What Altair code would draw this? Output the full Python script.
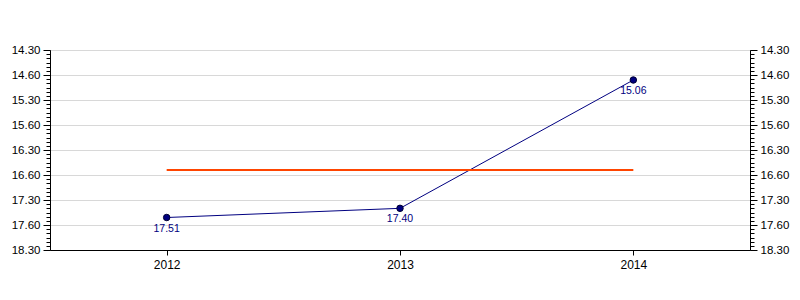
import altair as alt
import pandas as pd

# data
years = ["2012", "2013", "2014"]
minutes = [17, 17, 15]
seconds = [51, 40, 6]
value_labels = ["17.51", "17.40", "15.06"]
target_min, target_sec = 16, 54  # orange reference line

tick_secs = [870, 900, 930, 960, 990, 1020, 1050, 1080, 1110]
tick_labels = ["14.30", "14.60", "15.30", "15.60", "16.30", "16.60", "17.30", "17.60", "18.30"]
minor_step = 5

total = [m * 60 + s for m, s in zip(minutes, seconds)]
target = target_min * 60 + target_sec

df = pd.DataFrame({"year": years, "t": total, "label": value_labels, "target": [target] * len(years)})

domain = [tick_secs[0], tick_secs[-1]]
all_ticks = list(range(tick_secs[0], tick_secs[-1] + 1, minor_step))
arr_s = "[" + ",".join(str(v) for v in tick_secs) + "]"
arr_l = "[" + ",".join("'" + v + "'" for v in tick_labels) + "]"
label_expr = f"indexof({arr_s}, datum.value) >= 0 ? {arr_l}[indexof({arr_s}, datum.value)] : ''"
major_test = f"indexof({arr_s}, datum.value) >= 0"

FONT = "Liberation Sans"
NAVY = "#000080"

yscale = alt.Scale(domain=domain, reverse=True, nice=False, zero=False)
xaxis = alt.Axis(title=None, labelAngle=0, labelAlign="center", grid=False, tickSize=5,
                 tickColor="black", domainColor="black", labelColor="black",
                 labelFont=FONT, labelFontSize=12, labelPadding=4)
xenc = alt.X("year:N", scale=alt.Scale(paddingInner=0, paddingOuter=0), axis=xaxis)


def yaxis(orient, grid):
    return alt.Axis(
        orient=orient, title=None, values=all_ticks, labelExpr=label_expr,
        grid=grid, gridColor="#d8d8d8",
        gridOpacity={"condition": {"test": major_test, "value": 1}, "value": 0},
        tickSize={"condition": {"test": major_test, "value": 7}, "value": 4},
        tickColor="black", domainColor="black", labelColor="black",
        labelFont=FONT, labelFontSize=11.5, labelPadding=3, labelFlush=False,
        labelOverlap=False, labelBound=False,
    )


left_axis = yaxis("left", True)
right_axis = yaxis("right", False)

base = alt.Chart(df)

line = base.mark_line(color=NAVY, strokeWidth=1).encode(
    x=xenc, y=alt.Y("t:Q", scale=yscale, axis=left_axis))
pts = base.mark_point(filled=True, size=42, color=NAVY, stroke="#000033", strokeWidth=1, opacity=1).encode(
    x=xenc, y=alt.Y("t:Q", scale=yscale, axis=left_axis))
txt = base.mark_text(color=NAVY, font=FONT, fontSize=10.5, baseline="middle", dy=11).encode(
    x=xenc, y=alt.Y("t:Q", scale=yscale, axis=left_axis), text="label:N")
inner = alt.layer(line, pts, txt)

targetline = base.mark_line(color="#FF4500", strokeWidth=2).encode(
    x=xenc, y=alt.Y("target:Q", scale=yscale, axis=right_axis))

chart = alt.layer(inner, targetline).resolve_scale(y="independent").properties(
    width=700, height=200,
    autosize=alt.AutoSizeParams(type="none"),
    padding={"left": 50, "top": 50, "right": 50, "bottom": 50},
    background="white",
).configure_view(stroke="black", strokeWidth=1)

chart.save("out.html", embed_options={"renderer": "svg", "actions": False})
